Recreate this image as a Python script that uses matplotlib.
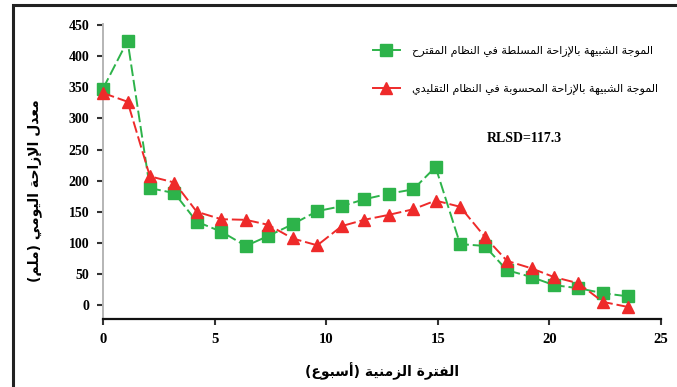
import matplotlib
matplotlib.use("Agg")
import matplotlib.pyplot as plt
from matplotlib.lines import Line2D
from matplotlib.patches import Rectangle

# data
weeks = [0, 1.1, 2.1, 3.2, 4.2, 5.3, 6.4, 7.4, 8.5, 9.6, 10.7, 11.7,
         12.8, 13.9, 14.9, 16.0, 17.1, 18.1, 19.2, 20.2, 21.3, 22.4, 23.5]
proposed = [348, 425, 188, 180, 134, 118, 95, 111, 130, 151, 159, 170,
            179, 186, 222, 98, 95, 56, 45, 32, 27, 19, 14]
classic = [341, 327, 207, 197, 150, 138, 137, 129, 107, 96, 127, 137,
           145, 154, 168, 158, 110, 71, 59, 45, 35, 5, -3]

label_proposed = "الموجة الشبيهة بالإزاحة المسلطة في النظام المقترح"
label_classic = "الموجة الشبيهة بالإزاحة المحسوبة في النظام التقليدي"
xlabel = "الفترة الزمنية (أسبوع)"
ylabel = "معدل الإزاحة اليومي (ملم)"
score = "RLSD=117.3"

# matplotlib has no arabic shaping, so map letters to presentation forms
FORMS = {
    "\u0621": (0xFE80, None, None, None),
    "\u0622": (0xFE81, 0xFE82, None, None),
    "\u0623": (0xFE83, 0xFE84, None, None),
    "\u0624": (0xFE85, 0xFE86, None, None),
    "\u0625": (0xFE87, 0xFE88, None, None),
    "\u0626": (0xFE89, 0xFE8A, 0xFE8B, 0xFE8C),
    "\u0627": (0xFE8D, 0xFE8E, None, None),
    "\u0628": (0xFE8F, 0xFE90, 0xFE91, 0xFE92),
    "\u0629": (0xFE93, 0xFE94, None, None),
    "\u062A": (0xFE95, 0xFE96, 0xFE97, 0xFE98),
    "\u062B": (0xFE99, 0xFE9A, 0xFE9B, 0xFE9C),
    "\u062C": (0xFE9D, 0xFE9E, 0xFE9F, 0xFEA0),
    "\u062D": (0xFEA1, 0xFEA2, 0xFEA3, 0xFEA4),
    "\u062E": (0xFEA5, 0xFEA6, 0xFEA7, 0xFEA8),
    "\u062F": (0xFEA9, 0xFEAA, None, None),
    "\u0630": (0xFEAB, 0xFEAC, None, None),
    "\u0631": (0xFEAD, 0xFEAE, None, None),
    "\u0632": (0xFEAF, 0xFEB0, None, None),
    "\u0633": (0xFEB1, 0xFEB2, 0xFEB3, 0xFEB4),
    "\u0634": (0xFEB5, 0xFEB6, 0xFEB7, 0xFEB8),
    "\u0635": (0xFEB9, 0xFEBA, 0xFEBB, 0xFEBC),
    "\u0636": (0xFEBD, 0xFEBE, 0xFEBF, 0xFEC0),
    "\u0637": (0xFEC1, 0xFEC2, 0xFEC3, 0xFEC4),
    "\u0638": (0xFEC5, 0xFEC6, 0xFEC7, 0xFEC8),
    "\u0639": (0xFEC9, 0xFECA, 0xFECB, 0xFECC),
    "\u063A": (0xFECD, 0xFECE, 0xFECF, 0xFED0),
    "\u0641": (0xFED1, 0xFED2, 0xFED3, 0xFED4),
    "\u0642": (0xFED5, 0xFED6, 0xFED7, 0xFED8),
    "\u0643": (0xFED9, 0xFEDA, 0xFEDB, 0xFEDC),
    "\u0644": (0xFEDD, 0xFEDE, 0xFEDF, 0xFEE0),
    "\u0645": (0xFEE1, 0xFEE2, 0xFEE3, 0xFEE4),
    "\u0646": (0xFEE5, 0xFEE6, 0xFEE7, 0xFEE8),
    "\u0647": (0xFEE9, 0xFEEA, 0xFEEB, 0xFEEC),
    "\u0648": (0xFEED, 0xFEEE, None, None),
    "\u0649": (0xFEEF, 0xFEF0, None, None),
    "\u064A": (0xFEF1, 0xFEF2, 0xFEF3, 0xFEF4),
}
LAM_ALEF = {"\u0622": (0xFEF5, 0xFEF6), "\u0623": (0xFEF7, 0xFEF8),
            "\u0625": (0xFEF9, 0xFEFA), "\u0627": (0xFEFB, 0xFEFC)}


def joins_forward(ch):
    return ch in FORMS and FORMS[ch][2] is not None


def rtl(s):
    out = []
    i = 0
    while i < len(s):
        c = s[i]
        if c not in FORMS:
            out.append(c)
            i += 1
            continue
        prev_link = i > 0 and joins_forward(s[i - 1])
        nxt = s[i + 1] if i + 1 < len(s) else ""
        if c == "\u0644" and nxt in LAM_ALEF:
            out.append(chr(LAM_ALEF[nxt][1 if prev_link else 0]))
            i += 2
            continue
        next_link = joins_forward(c) and nxt in FORMS
        iso, fin, ini, med = FORMS[c]
        if prev_link and next_link:
            f = med
        elif prev_link:
            f = fin
        elif next_link:
            f = ini
        else:
            f = iso
        out.append(chr(f))
        i += 1
    return "".join(out)[::-1].translate(str.maketrans("()", ")("))


green = "#2db34a"
red = "#ee2a2a"
arabic = ["DejaVu Sans"]

fig = plt.figure(figsize=(6.77, 3.87), dpi=100)
ax = fig.add_axes([103 / 677, 1 - 319 / 387, 558 / 677, 295 / 387])

ax.plot(weeks, proposed, color=green, lw=1.4, ls=(0, (6, 2)),
        marker="s", ms=8.5, mec=green, mfc=green, clip_on=False, zorder=3)
ax.plot(weeks, classic, color=red, lw=1.4, ls=(0, (6, 2)),
        marker="^", ms=8.5, mec=red, mfc=red, clip_on=False, zorder=4)

ax.set_xlim(0, 25)
ax.set_ylim(-22.5, 452)
ax.set_xticks(range(0, 26, 5))
ax.set_yticks(range(0, 451, 50))

for side in ["top", "right"]:
    ax.spines[side].set_visible(False)
ax.spines["bottom"].set_color("#111111")
ax.spines["bottom"].set_linewidth(1.6)
ax.spines["left"].set_color("#b5b5b5")
ax.spines["left"].set_linewidth(1.4)

ax.tick_params(axis="y", direction="out", length=4, width=1.5, color="#333333",
               pad=6, labelsize=10)
ax.tick_params(axis="x", direction="out", length=4, width=1.5, color="#333333",
               pad=6, labelsize=10.5)
for lab in ax.get_xticklabels() + ax.get_yticklabels():
    lab.set_fontfamily("Liberation Serif")
    lab.set_fontweight("bold")

fig.text(382 / 677, 1 - 371 / 387, rtl(xlabel), family=arabic, fontsize=10,
         fontweight="bold", ha="center", va="center")
fig.text(35 / 677, 1 - 191 / 387, rtl(ylabel), family=arabic, fontsize=10,
         fontweight="bold", ha="center", va="center", rotation=90)

handles = [
    Line2D([], [], color=green, lw=1.4, marker="s", ms=8.5),
    Line2D([], [], color=red, lw=1.4, marker="^", ms=8.5),
]
leg = ax.legend(handles, [rtl(label_proposed), rtl(label_classic)],
                loc="upper left", bbox_to_anchor=(373 / 677, 1 - 46 / 387),
                bbox_transform=fig.transFigure, frameon=False, numpoints=1,
                handlelength=2.4, handletextpad=1.1, labelspacing=2.4,
                borderpad=0, borderaxespad=0,
                prop={"family": arabic, "size": 8})

fig.text(487 / 677, 1 - 138 / 387, score, family="Liberation Serif",
         fontsize=10, fontweight="bold", ha="left", va="center")

# dark frame round the figure, right and bottom edges fall outside the picture
fig.patches.append(Rectangle((13 / 677, -0.1), 1.2, 1.1 - 5 / 387,
                             transform=fig.transFigure, fill=False,
                             lw=2.2, ec="#222222"))

fig.savefig("out.png", dpi=100)
